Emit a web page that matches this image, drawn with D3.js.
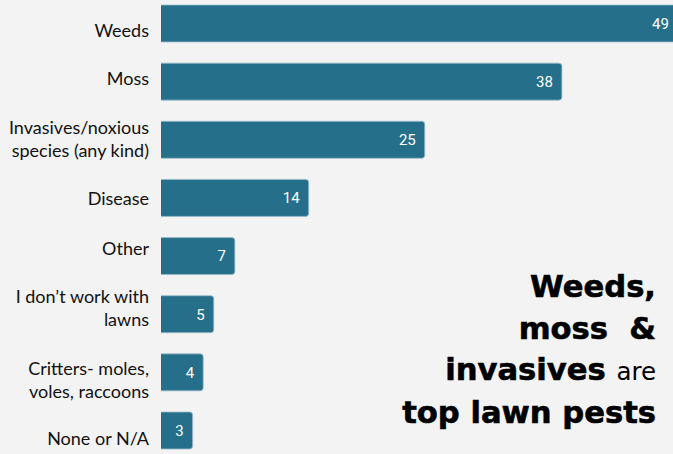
<!DOCTYPE html>
<html>
<head>
<meta charset="utf-8">
<script src="https://cdn.jsdelivr.net/npm/d3@7"></script>
<style>
  html, body { margin: 0; padding: 0; background: #f3f3f3; }
  svg { display: block; }
</style>
</head>
<body>
<svg id="chart" width="673" height="454"></svg>
<script>
// Survey answers: which lawn pests come up most
const categories = [
  "Weeds",
  "Moss",
  "Invasives/noxious\nspecies (any kind)",
  "Disease",
  "Other",
  "I don\u2019t work with\nlawns",
  "Critters- moles,\nvoles, raccoons",
  "None or N/A"
];
const counts = [49, 38, 25, 14, 7, 5, 4, 3];
const headlineLines = [
  [{ t: "Weeds,", big: true }],
  [{ t: "moss  &", big: true }],
  [{ t: "invasives ", big: true }, { t: "are", big: false }],
  [{ t: "top lawn pests", big: true }]
];

const W = 673, H = 454;
const svg = d3.select("#chart");
const barColor = "#266f8a";

const x = d3.scaleLinear().domain([0, 50]).range([161, 688.5]);
const y = d3.scaleBand().domain(categories).range([5, 449]).paddingInner(0.364).paddingOuter(0);

// small vertical nudges for the category labels
const labelNudge = [7.5, -3.5, -1, 1, -8, -6, 8, 7.5];

const rows = categories.map((c, i) => ({ cat: c, value: counts[i], i }));

// bars: square at the baseline, rounded on the right end
function barPath(d) {
  const x0 = x(0), x1 = x(d.value), y0 = y(d.cat), y1 = y0 + y.bandwidth();
  const r = 3;
  return `M${x0},${y0}H${x1 - r}Q${x1},${y0} ${x1},${y0 + r}V${y1 - r}Q${x1},${y1} ${x1 - r},${y1}H${x0}`;
}

svg.append("g").selectAll("path")
  .data(rows)
  .join("path")
  .attr("d", barPath)
  .attr("fill", barColor)
  .attr("stroke", "#9bbccb")
  .attr("stroke-width", 0.8);

// value labels inside bar ends
svg.append("g").selectAll("text")
  .data(rows)
  .join("text")
  .attr("x", d => x(d.value) - 9)
  .attr("y", d => y(d.cat) + y.bandwidth() / 2)
  .attr("dy", "0.36em")
  .attr("text-anchor", "end")
  .attr("fill", "#ffffff")
  .attr("font-family", "Roboto, 'Liberation Sans', sans-serif")
  .attr("font-size", 15)
  .text(d => d.value);

// category labels, right-aligned against the bars
const lineGap = 23;
const catG = svg.append("g")
  .attr("font-family", "Lato, 'Open Sans', sans-serif")
  .attr("font-size", 18)
  .attr("fill", "#111111")
  .attr("text-anchor", "end");

rows.forEach(d => {
  const lines = d.cat.split("\n");
  const center = y(d.cat) + y.bandwidth() / 2 + labelNudge[d.i];
  const base1 = center + 6.5 - (lines.length - 1) * lineGap / 2;
  const t = catG.append("text");
  lines.forEach((ln, k) => {
    t.append("tspan").attr("x", 149).attr("y", base1 + k * lineGap).text(ln);
  });
});

// headline block, bottom right; heavy wide face sized so the last line spans ~254px
const headFont = "'DejaVu Sans', Verdana, sans-serif";
const probe = svg.append("text")
  .attr("font-family", headFont).attr("font-weight", 700).attr("font-size", 30)
  .text("top lawn pests");
const bigSize = 30 * 254 / probe.node().getComputedTextLength();
probe.remove();

const head = svg.append("text")
  .attr("text-anchor", "end")
  .attr("font-family", headFont)
  .attr("fill", "#000000")
  .attr("stroke", "#000000")
  .style("white-space", "pre");
const baselines = [297, 338.5, 380, 423];
headlineLines.forEach((parts, k) => {
  parts.forEach((p, j) => {
    const ts = head.append("tspan")
      .attr("font-size", p.big ? bigSize : bigSize * 0.8)
      .attr("font-weight", p.big ? 700 : 400)
      .attr("stroke-width", p.big ? 0.6 : 0)
      .text(p.t);
    if (j === 0) ts.attr("x", 656).attr("y", baselines[k]);
  });
});
</script>
</body>
</html>
